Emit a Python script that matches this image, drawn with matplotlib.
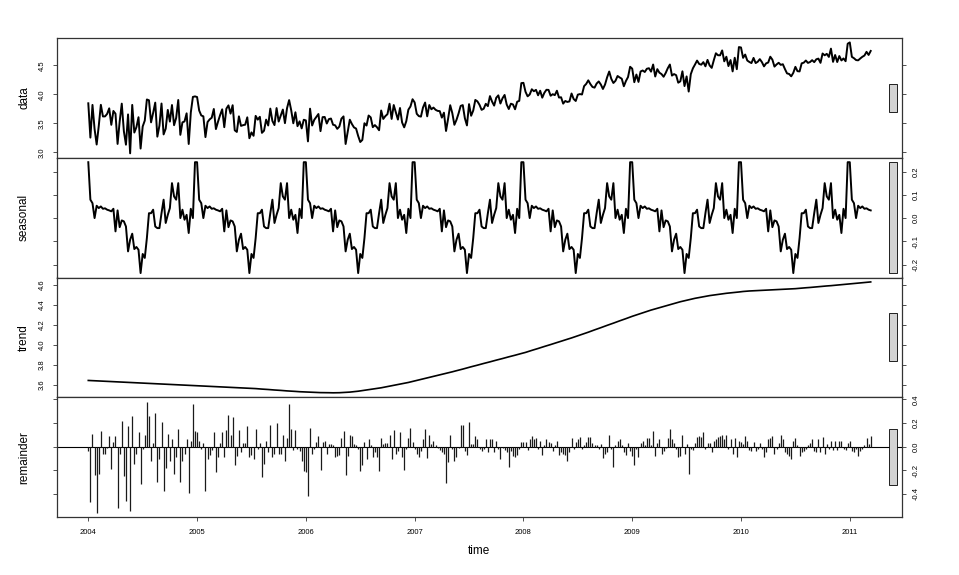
import numpy as np
import matplotlib
matplotlib.use('Agg')
import matplotlib.pyplot as plt
from matplotlib.patches import Rectangle

# weekly series, stl() output
START, FREQ = 2004, 52

# one seasonal cycle (periodic window, repeats every 52 weeks)
seasonal_cycle = [
    0.240, 0.079, 0.064, 0.000, 0.053, 0.043, 0.050, 0.040, 0.042, 0.036,
    0.033, 0.029, 0.040, -0.057, 0.033, -0.039, -0.010, -0.014, -0.036, -0.143,
    -0.093, -0.067, -0.133, -0.124, -0.136, -0.236, -0.154, -0.171, -0.086, 0.021,
    0.021, 0.036, -0.036, -0.043, -0.043, 0.021, 0.079, -0.021, 0.014, 0.043,
    0.150, 0.093, 0.079, 0.150, 0.000, 0.036, -0.007, 0.014, -0.064, 0.040,
    0.000, 0.240,
]

trend = [
    # 2004
    3.647, 3.646, 3.645, 3.644, 3.643, 3.642, 3.641, 3.640, 3.639, 3.638, 3.637, 3.636, 3.635,
    3.634, 3.633, 3.632, 3.631, 3.630, 3.629, 3.628, 3.627, 3.626, 3.625, 3.624, 3.623, 3.622,
    3.621, 3.620, 3.619, 3.618, 3.617, 3.616, 3.615, 3.614, 3.613, 3.612, 3.611, 3.610, 3.609,
    3.608, 3.607, 3.606, 3.605, 3.604, 3.603, 3.602, 3.601, 3.600, 3.599, 3.598, 3.597, 3.596,
    # 2005
    3.595, 3.594, 3.593, 3.592, 3.591, 3.590, 3.589, 3.588, 3.587, 3.586, 3.585, 3.584, 3.583,
    3.582, 3.581, 3.580, 3.579, 3.578, 3.577, 3.576, 3.575, 3.574, 3.573, 3.572, 3.571, 3.570,
    3.569, 3.567, 3.566, 3.564, 3.563, 3.561, 3.560, 3.558, 3.557, 3.555, 3.554, 3.552, 3.551,
    3.549, 3.548, 3.546, 3.545, 3.543, 3.542, 3.540, 3.539, 3.538, 3.536, 3.535, 3.534, 3.533,
    # 2006
    3.532, 3.531, 3.530, 3.529, 3.528, 3.527, 3.527, 3.526, 3.526, 3.525, 3.525, 3.525, 3.524,
    3.524, 3.524, 3.525, 3.525, 3.526, 3.527, 3.528, 3.529, 3.531, 3.533, 3.535, 3.537, 3.540,
    3.543, 3.546, 3.549, 3.552, 3.555, 3.558, 3.561, 3.564, 3.567, 3.571, 3.574, 3.578, 3.582,
    3.586, 3.590, 3.594, 3.598, 3.602, 3.606, 3.610, 3.614, 3.618, 3.622, 3.627, 3.632, 3.637,
    # 2007
    3.642, 3.647, 3.652, 3.657, 3.662, 3.667, 3.672, 3.677, 3.682, 3.687, 3.692, 3.697, 3.702,
    3.707, 3.712, 3.718, 3.723, 3.728, 3.733, 3.739, 3.744, 3.749, 3.755, 3.760, 3.766, 3.771,
    3.777, 3.783, 3.788, 3.794, 3.799, 3.805, 3.810, 3.816, 3.821, 3.827, 3.832, 3.838, 3.843,
    3.849, 3.854, 3.860, 3.865, 3.871, 3.876, 3.882, 3.887, 3.893, 3.898, 3.904, 3.909, 3.915,
    # 2008
    3.920, 3.926, 3.933, 3.939, 3.946, 3.952, 3.959, 3.965, 3.972, 3.978, 3.985, 3.991, 3.998,
    4.004, 4.011, 4.017, 4.024, 4.030, 4.037, 4.044, 4.050, 4.057, 4.063, 4.070, 4.077, 4.083,
    4.090, 4.097, 4.105, 4.112, 4.120, 4.127, 4.135, 4.142, 4.150, 4.157, 4.165, 4.172, 4.180,
    4.187, 4.195, 4.202, 4.210, 4.217, 4.225, 4.232, 4.240, 4.247, 4.255, 4.262, 4.270, 4.277,
    # 2009
    4.285, 4.292, 4.299, 4.306, 4.313, 4.320, 4.327, 4.333, 4.340, 4.347, 4.353, 4.360, 4.366,
    4.372, 4.378, 4.384, 4.390, 4.396, 4.402, 4.408, 4.414, 4.419, 4.425, 4.430, 4.435, 4.440,
    4.445, 4.450, 4.455, 4.459, 4.464, 4.468, 4.472, 4.476, 4.480, 4.484, 4.487, 4.491, 4.494,
    4.497, 4.500, 4.503, 4.506, 4.509, 4.511, 4.514, 4.516, 4.519, 4.521, 4.523, 4.525, 4.527,
    # 2010
    4.530, 4.532, 4.534, 4.535, 4.537, 4.538, 4.540, 4.541, 4.542, 4.543, 4.544, 4.545, 4.546,
    4.547, 4.548, 4.549, 4.550, 4.551, 4.552, 4.553, 4.554, 4.555, 4.556, 4.557, 4.558, 4.559,
    4.560, 4.562, 4.563, 4.565, 4.567, 4.569, 4.570, 4.572, 4.574, 4.576, 4.577, 4.579, 4.581,
    4.583, 4.585, 4.587, 4.588, 4.590, 4.592, 4.594, 4.596, 4.598, 4.600, 4.601, 4.603, 4.605,
    # 2011
    4.607, 4.609, 4.611, 4.613, 4.615, 4.617, 4.619, 4.621, 4.623, 4.625, 4.627,
]

remainder = [
    -0.04, -0.47, 0.11, -0.24, -0.56, -0.23, 0.13, -0.06, -0.06, -0.01,
    0.09, -0.19, 0.04, 0.09, -0.52, -0.06, 0.22, -0.25, -0.46, 0.17,
    -0.55, 0.26, -0.15, -0.065, 0.12, -0.32, -0.02, 0.10, 0.38, 0.26,
    -0.12, 0.03, 0.28, -0.30, -0.11, 0.21, -0.38, -0.18, 0.11, -0.12,
    0.06, -0.23, -0.09, 0.15, -0.30, -0.12, -0.06, 0.06, -0.39, 0.05,
    0.36, 0.13, 0.12, 0.05, -0.02, 0.03, -0.38, -0.11, -0.07, -0.03,
    0.12, -0.22, -0.09, 0.03, 0.12, -0.09, 0.14, 0.27, 0.10, 0.25,
    -0.16, -0.08, 0.14, -0.05, 0.03, 0.03, 0.17, -0.09, -0.07, -0.11,
    0.15, -0.02, 0.03, -0.26, -0.15, 0.05, -0.05, 0.18, -0.09, -0.06,
    0.20, -0.06, -0.065, 0.10, -0.12, 0.07, 0.36, 0.15, -0.03, 0.14,
    -0.02, -0.04, -0.12, -0.21, -0.22, -0.42, 0.16, -0.065, -0.02, 0.04,
    0.085,
    -0.20, 0.04, 0.05, -0.06, 0.02, 0.02, 0.01, -0.09, -0.08,
    -0.07, 0.07, 0.13, -0.24, -0.08, 0.10, 0.09, 0.02, 0.01, -0.02,
    -0.21, -0.16, 0.04, -0.11, 0.06, 0.01, -0.09, -0.05, -0.09, -0.21,
    0.07, 0.02, 0.03, 0.03, 0.10, -0.11, 0.14, -0.06, -0.04, 0.12,
    -0.09, -0.20, -0.02, 0.07, 0.16, 0.04, -0.02, -0.06, -0.09, -0.04,
    0.06, 0.15, -0.10, 0.10, 0.02, 0.05, 0.01, -0.01, -0.03, -0.05,
    -0.06, -0.31, -0.13, 0.10, -0.02, -0.12, -0.09, -0.01, 0.18, 0.18,
    -0.04, -0.07, 0.21, 0.02, 0.02, 0.09, 0.06, -0.02, -0.04, -0.02,
    0.06, -0.05, 0.06, 0.06, -0.05, 0.05, -0.02, -0.11, -0.01, -0.03,
    -0.05, -0.17, -0.04, -0.08, -0.09, -0.07, -0.02, 0.04, 0.04, 0.04,
    -0.03, 0.06, 0.09, 0.06, 0.07, -0.02, 0.05, -0.07, 0.01, 0.06,
    0.04, 0.03, -0.04, 0.01, 0.05, -0.07, -0.05, -0.06, -0.07, -0.12,
    -0.05, 0.07, -0.02, 0.04, 0.06, 0.08, -0.02, 0.01, 0.04, 0.08,
    0.08, 0.03, 0.01, 0.01, -0.02, 0.02, -0.10, -0.06, -0.05, 0.10,
    -0.02, -0.17, 0.01, 0.05,
    0.06, 0.01, -0.05, -0.07, 0.03, -0.04,
    -0.08, -0.16, -0.02, -0.09, 0.03, 0.05, 0.01, 0.07, 0.07, 0.01,
    0.13, -0.08, 0.03, 0.06, -0.06, -0.04, -0.01, 0.07, 0.15, 0.06,
    0.03, -0.02, -0.09, -0.08, 0.10, -0.06, 0.02, -0.23, -0.02, -0.03,
    0.03, 0.08, 0.09, 0.08, 0.12, -0.02, 0.03, 0.03, -0.05, 0.05,
    0.06, 0.08, 0.09, 0.10, 0.06, 0.10, -0.02, 0.06, -0.06, 0.07,
    -0.09, 0.05, 0.04, 0.02, 0.09, 0.05, -0.03, -0.04, 0.04, -0.04,
    -0.02, 0.03, -0.02, -0.09, -0.05, 0.06, 0.07, 0.09, -0.06, -0.02,
    0.03, 0.10, 0.06, -0.05, -0.06, -0.08, -0.11, 0.05, 0.07, 0.01,
    -0.08, -0.05, -0.04, -0.02, 0.01, 0.03, 0.06, -0.04, -0.05, 0.06,
    -0.05, 0.08, -0.06, 0.02, -0.02, 0.05, -0.03, 0.05, -0.03, 0.05,
    0.05, -0.02, -0.03, 0.03, 0.05, -0.04, -0.05, -0.02, -0.08, -0.04,
    -0.02, 0.01, 0.07, 0.02, 0.09,
]

year_ticks = [2004, 2005, 2006, 2007, 2008, 2009, 2010, 2011]
panel_names = ['data', 'seasonal', 'trend', 'remainder']
ytick_vals = [
    [3.0, 3.5, 4.0, 4.5],
    [-0.2, -0.1, 0.0, 0.1, 0.2],
    [3.6, 3.8, 4.0, 4.2, 4.4, 4.6],
    [-0.4, -0.2, 0.0, 0.2, 0.4],
]

# --- assemble components ---
n = len(remainder)
t = START + np.arange(n) / FREQ
seas = np.resize(np.array(seasonal_cycle), n)
tr = np.array(trend)
rem = np.array(remainder)
data = tr + seas + rem
series = [data, seas, tr, rem]

plt.rcParams['font.family'] = ['Liberation Sans', 'DejaVu Sans']

W, H = 959, 575
fig = plt.figure(figsize=(W / 100, H / 100), dpi=100)
left_px, right_px, top_px, panel_h = 57, 902, 38, 119.75

x0 = t[0] - 0.04 * (t[-1] - t[0])
x1 = t[-1] + 0.04 * (t[-1] - t[0])
ranges = [s.max() - s.min() for s in series]
mx = min(ranges)

for i, (name, y) in enumerate(zip(panel_names, series)):
    bottom = 1 - (top_px + (i + 1) * panel_h) / H
    ax = fig.add_axes([left_px / W, bottom, (right_px - left_px) / W, panel_h / H])
    lo, hi = y.min(), y.max()
    pad = 0.04 * (hi - lo)
    ax.set_xlim(x0, x1)
    ax.set_ylim(lo - pad, hi + pad)

    if name == 'remainder':
        ax.axhline(0, color='black', lw=0.8)
        ax.vlines(t, 0, y, color='#1a1a1a', lw=0.9)
    else:
        ax.plot(t, y, color='black', lw=1.2 if name == 'trend' else 1.4)

    for sp in ax.spines.values():
        sp.set_linewidth(0.9)
        sp.set_color('#333333')

    right = i % 2 == 1
    ax.set_xticks(year_ticks)
    ax.set_xticklabels([str(v) for v in year_ticks] if i == 3 else [])
    ax.set_yticks(ytick_vals[i])
    ax.set_yticklabels(['%.1f' % v for v in ytick_vals[i]])
    ax.tick_params(axis='both', direction='out', length=3, width=0.6, color='#333333',
                   labelsize=5.5)
    ax.tick_params(axis='x', pad=6)
    ax.tick_params(axis='y', left=True, right=True, labelleft=not right,
                   labelright=right, pad=5)
    for lab in ax.get_yticklabels():
        lab.set_rotation(90)
        lab.set_va('center')

    ax.text(-0.039, 0.5, name, transform=ax.transAxes, rotation=90,
            ha='center', va='center', fontsize=8.5)

    # range bar on the right, same data height on each panel
    dx = (x1 - x0) / 64
    yc = (lo + hi) / 2
    ax.add_patch(Rectangle((x1 - dx, yc - mx / 2), 0.6 * dx, mx, facecolor='lightgray',
                           edgecolor='black', lw=0.6, clip_on=False, zorder=3))

fig.text(479 / W, 1 - 551 / H, 'time', ha='center', va='center', fontsize=8.5)

fig.savefig('out.png', dpi=100)
